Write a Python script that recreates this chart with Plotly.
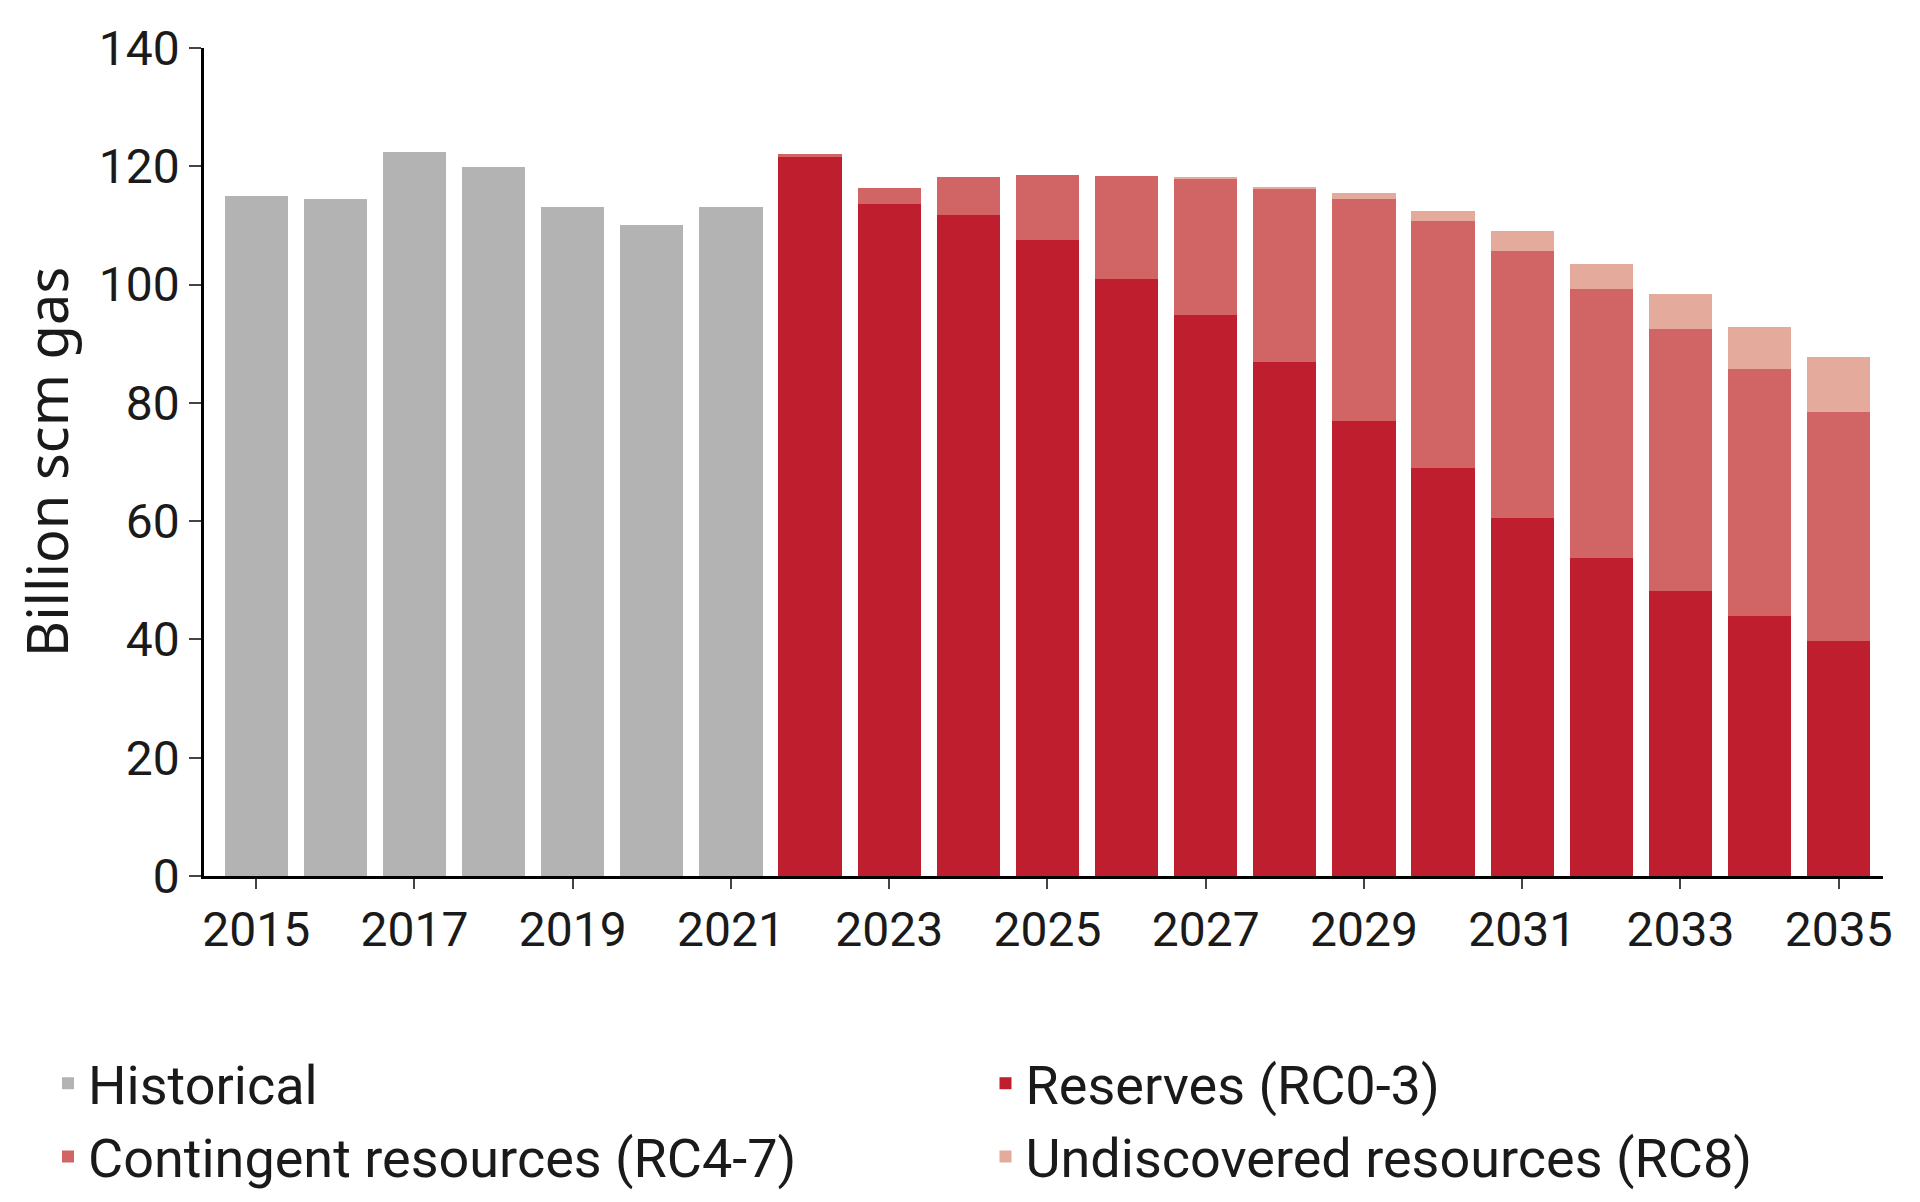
import plotly.graph_objects as go

years = list(range(2015, 2036))
hist_years = years[:7]
hist = [114.9, 114.5, 122.4, 119.8, 113.1, 110.0, 113.1]
fut_years = years[7:]
reserves =   [121.6, 113.7, 111.8, 107.6, 101.0, 94.9, 86.9, 76.9, 69.0, 60.6, 53.7, 48.2, 43.9, 39.8]
contingent = [0.4, 2.6, 6.4, 11.0, 17.4, 23.1, 29.4, 37.6, 41.8, 45.1, 45.5, 44.3, 41.8, 38.6]
undiscovered = [0.0, 0.0, 0.0, 0.0, 0.0, 0.2, 0.2, 1.0, 1.7, 3.3, 4.3, 5.9, 7.2, 9.4]
tick_years = [2015, 2017, 2019, 2021, 2023, 2025, 2027, 2029, 2031, 2033, 2035]

font = "Liberation Sans Narrow, Roboto, sans-serif"
fig = go.Figure()
fig.add_bar(x=hist_years, y=hist, name="Historical", marker_color="#b3b3b3", marker_line_width=0)
fig.add_bar(x=fut_years, y=reserves, name="Reserves (RC0-3)", marker_color="#be1e2d", marker_line_width=0)
fig.add_bar(x=fut_years, y=contingent, name="Contingent resources (RC4-7)", marker_color="#d16464", marker_line_width=0)
fig.add_bar(x=fut_years, y=undiscovered, name="Undiscovered resources (RC8)", marker_color="#e4aa9c", marker_line_width=0)

fig.update_layout(
    barmode="stack", bargap=0.2,
    width=1920, height=1202,
    plot_bgcolor="white", paper_bgcolor="white",
    margin=dict(l=196, r=45, t=33, b=295),
    font=dict(family=font, size=50, color="#1a1a1a"),
    legend=dict(orientation="h", x=-0.07, xanchor="left", y=-0.2, yanchor="top",
                entrywidth=0.5, entrywidthmode="fraction", traceorder="normal",
                font=dict(size=54), itemsizing="constant"),
    xaxis=dict(range=[2015 - 0.66, 2035 + 0.56], tickvals=tick_years,
               showline=True, linecolor="black", linewidth=2.5, ticks="outside",
               ticklen=10, tickwidth=2, showgrid=False, tickfont=dict(size=48)),
    yaxis=dict(range=[0, 140], dtick=20, showline=True, linecolor="black", linewidth=2.5,
               ticks="outside", ticklen=12, tickwidth=2, showgrid=False, zeroline=False,
               title=dict(text="Billion scm gas", font=dict(size=56, family="Noto Sans")),
               tickfont=dict(size=48)),
)
fig.write_html("out.html")
